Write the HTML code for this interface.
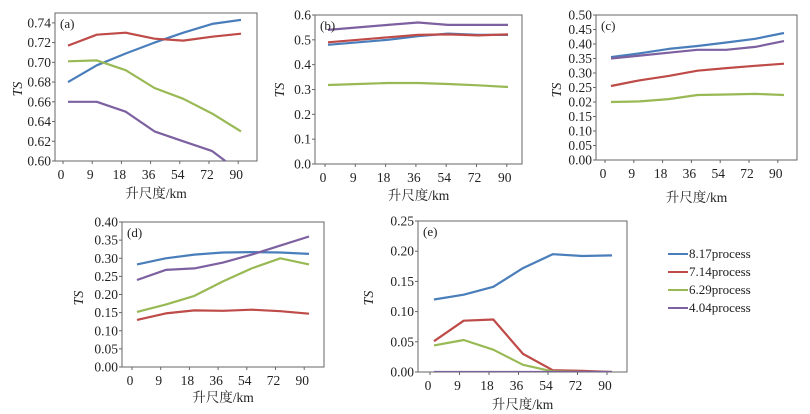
<!DOCTYPE html>
<html><head><meta charset="utf-8"><style>
body{margin:0;background:#fff;}
svg{display:block;}
text{font-family:"Liberation Serif","Noto Serif CJK SC",serif;fill:#222;}
</style></head><body>
<svg id="chart" width="810" height="414" viewBox="0 0 810 414"></svg>
<script>
const categories = ["0","9","18","36","54","72","90"];
const seriesNames = ["8.17process","7.14process","6.29process","4.04process"];
const colors = ["#4a7ebb","#be4b48","#98b954","#7d60a0"];
// panel a
const aBlue = [0.680,0.697,0.709,0.720,0.730,0.739,0.743];
const aRed = [0.717,0.728,0.730,0.724,0.722,0.726,0.729];
const aGreen = [0.701,0.702,0.692,0.674,0.663,0.648,0.630];
const aPurple = [0.660,0.660,0.650,0.630,0.620,0.610,0.588];
const aTicks = ["0.60","0.62","0.64","0.66","0.68","0.70","0.72","0.74"];
// panel b
const bBlue = [0.480,0.490,0.500,0.515,0.525,0.520,0.520];
const bRed = [0.490,0.500,0.510,0.520,0.522,0.518,0.522];
const bGreen = [0.318,0.322,0.326,0.326,0.322,0.317,0.310];
const bPurple = [0.540,0.550,0.560,0.570,0.560,0.560,0.560];
const bTicks = ["0.0","0.1","0.2","0.3","0.4","0.5","0.6"];
// panel c
const cBlue = [0.355,0.368,0.383,0.393,0.405,0.418,0.438];
const cRed = [0.255,0.275,0.290,0.308,0.317,0.325,0.332];
const cGreen = [0.200,0.202,0.210,0.224,0.226,0.228,0.224];
const cPurple = [0.350,0.360,0.370,0.380,0.380,0.390,0.410];
const cTicks = ["0.00","0.05","0.10","0.15","0.02","0.25","0.30","0.35","0.40","0.45","0.50"];
// panel d
const dBlue = [0.283,0.300,0.310,0.316,0.317,0.316,0.312];
const dRed = [0.130,0.148,0.156,0.155,0.158,0.154,0.147];
const dGreen = [0.152,0.172,0.196,0.236,0.272,0.300,0.283];
const dPurple = [0.240,0.268,0.272,0.288,0.310,0.335,0.360];
const dTicks = ["0.00","0.05","0.10","0.15","0.20","0.25","0.30","0.35","0.40"];
// panel e
const eBlue = [0.120,0.128,0.141,0.172,0.195,0.192,0.193];
const eRed = [0.051,0.085,0.087,0.030,0.003,0.002,0.000];
const eGreen = [0.044,0.053,0.037,0.012,0.001,0.000,0.000];
const ePurple = [0.000,0.000,0.000,0.000,0.000,0.000,0.000];
const eTicks = ["0.00","0.05","0.10","0.15","0.20","0.25"];

const NS="http://www.w3.org/2000/svg";
const svg=document.getElementById('chart');
function mk(tag,attrs,parent){const e=document.createElementNS(NS,tag);for(const k in attrs)e.setAttribute(k,attrs[k]);(parent||svg).appendChild(e);return e;}

function panel(p){
  const g=mk('g',{});
  
  
  const ymin=parseFloat(p.ticks[0]), ymax=p.ymax;
  const y=v=>p.bottom-(v-ymin)/(ymax-ymin)*(p.bottom-p.top);
  const xl=i=>p.lab0+i*p.step;
  const xp=i=>p.pt0+i*(p.pt1-p.pt0)/(categories.length-1);
  const clipId='clip-'+p.id;
  const cp=mk('clipPath',{id:clipId},g);
  mk('rect',{x:p.left,y:p.top,width:p.right-p.left,height:p.bottom-p.top},cp);
  const frame=mk('rect',{x:p.left,y:p.top,width:p.right-p.left,height:p.bottom-p.top,fill:'none',stroke:'#666','stroke-width':1},g);
  
  
  p.ticks.forEach((t,i)=>{
    const v=ymin+i*(p.tickStep);
    const yy=y(v);
    mk('line',{x1:p.left-3,x2:p.left,y1:yy,y2:yy,stroke:'#666'},g);
    const tx=mk('text',{x:p.left-4,y:yy+4.5,'text-anchor':'end','font-size':13.5},g);
    tx.textContent=t;
    
    
  });
  categories.forEach((c,i)=>{
    const xx=xl(i)+2;
    mk('line',{x1:xx,x2:xx,y1:p.bottom,y2:p.bottom+3,stroke:'#666'},g);
    const tx=mk('text',{x:xl(i),y:p.bottom+18,'text-anchor':'middle','font-size':13.5},g);
    tx.textContent=c;
    
    
  });
  const lg=mk('g',{'clip-path':'url(#'+clipId+')'},g);
  p.series.forEach((s,k)=>{
    const d=s.map((v,i)=>(i?'L':'M')+xp(i).toFixed(1)+','+y(v).toFixed(1)).join('');
    const path=mk('path',{d:d,fill:'none',stroke:colors[k],'stroke-width':2.2,'stroke-linejoin':'round'},lg);
    
    
  });
  const lab=mk('text',{x:p.left+5,y:p.top+15,'font-size':13},g);
  lab.textContent='('+p.id+')';
  
  
  const ts=mk('text',{x:p.tsx,y:p.tsy,'font-size':14,'font-style':'italic','text-anchor':'middle',transform:'rotate(-90 '+p.tsx+' '+p.tsy+')'},g);
  ts.textContent='TS';
  
  
  const xt=mk('text',{x:(p.left+p.right)/2,y:p.xty,'font-size':13.5,'text-anchor':'middle'},g);
  xt.textContent='升尺度/km';
  
  
}

panel({id:'a',left:55,right:257,top:13,bottom:161,ymax:0.75,tickStep:0.02,ticks:aTicks,lab0:61,step:29.2,pt0:68,pt1:241,series:[aBlue,aRed,aGreen,aPurple],tsx:22,tsy:89,xty:198});
panel({id:'b',left:315,right:522,top:15,bottom:164,ymax:0.6,tickStep:0.1,ticks:bTicks,lab0:323,step:30.3,pt0:328,pt1:508,series:[bBlue,bRed,bGreen,bPurple],tsx:284,tsy:90,xty:200});
panel({id:'c',left:596,right:797,top:15,bottom:160,ymax:0.5,tickStep:0.05,ticks:cTicks,lab0:603,step:28.8,pt0:611,pt1:784,series:[cBlue,cRed,cGreen,cPurple],tsx:561,tsy:90,xty:202});
panel({id:'d',left:122,right:324,top:222,bottom:367,ymax:0.4,tickStep:0.05,ticks:dTicks,lab0:130,step:28.7,pt0:137,pt1:309,series:[dBlue,dRed,dGreen,dPurple],tsx:83,tsy:298,xty:402});
panel({id:'e',left:418,right:627,top:221,bottom:372,ymax:0.25,tickStep:0.05,ticks:eTicks,lab0:428,step:29.5,pt0:434,pt1:612,series:[eBlue,eRed,eGreen,ePurple],tsx:373,tsy:298,xty:409});

const leg=mk('g',{});


seriesNames.forEach((n,k)=>{
  const yy=258+k*18;
  const ln=mk('line',{x1:668,x2:688,y1:yy-4,y2:yy-4,stroke:colors[k],'stroke-width':2},leg);
  
  
  const t=mk('text',{x:689,y:yy,'font-size':13},leg);
  t.textContent=n;
  
  
});
</script>
</body></html>
